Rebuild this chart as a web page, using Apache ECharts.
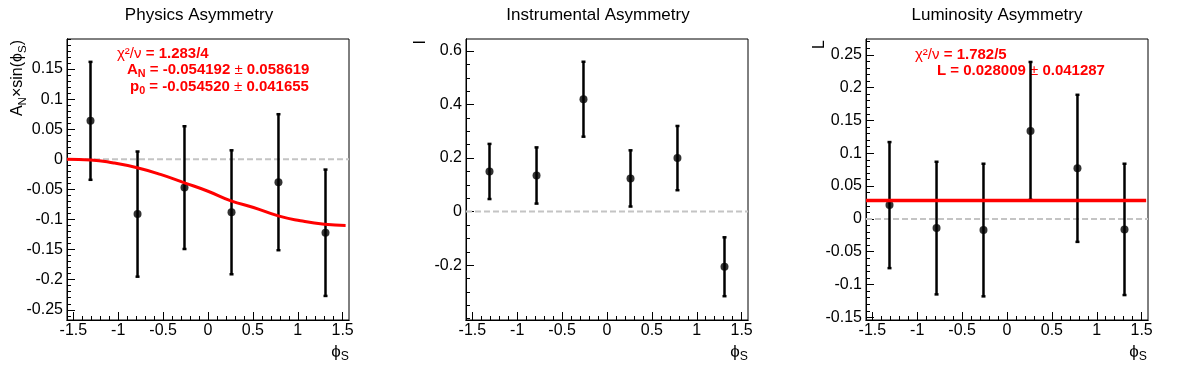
<!DOCTYPE html>
<html>
<head>
<meta charset="utf-8">
<script src="https://cdn.jsdelivr.net/npm/echarts@6/dist/echarts.min.js"></script>
<style>
html, body { margin: 0; padding: 0; background: #fff; }
#main { width: 1196px; height: 372px; }
</style>
</head>
<body>
<div id="main"></div>
<script>
// bin centres in phi_S
var phiBins = [-1.309, -0.785, -0.262, 0.262, 0.785, 1.309];

// physics asymmetry
var physVal = [0.064, -0.091, -0.047, -0.088, -0.038, -0.122];
var physErr = [0.098, 0.104, 0.102, 0.103, 0.113, 0.105];
// fit curve
var physFitX = [-1.571, -1.307, -1.05, -0.789, -0.53, -0.263, 0.0, 0.256, 0.507, 0.783, 1.03, 1.296, 1.533];
var physFitY = [0.000, -0.001, -0.006, -0.014, -0.025, -0.039, -0.053, -0.069, -0.080, -0.094, -0.102, -0.108, -0.110];

// instrumental asymmetry
var instVal = [0.150, 0.135, 0.420, 0.124, 0.200, -0.206];
var instErr = [0.103, 0.105, 0.140, 0.105, 0.120, 0.110];

// luminosity asymmetry
var lumiVal = [0.021, -0.014, -0.017, 0.134, 0.077, -0.016];
var lumiErr = [0.096, 0.101, 0.101, 0.105, 0.112, 0.100];
var lumiFit = 0.028009;

// axes
var xRange = [-Math.PI / 2, Math.PI / 2];
var xTicks = [-1.5, -1, -0.5, 0, 0.5, 1, 1.5];
var physRange = [-0.267, 0.2];
var physTicks = [-0.25, -0.2, -0.15, -0.1, -0.05, 0, 0.05, 0.1, 0.15];
var instRange = [-0.405, 0.645];
var instTicks = [-0.2, 0, 0.2, 0.4, 0.6];
var lumiRange = [-0.154, 0.274];
var lumiTicks = [-0.15, -0.1, -0.05, 0, 0.05, 0.1, 0.15, 0.2, 0.25];

var FONT = 'Liberation Sans';

function minorTicks(range, step) {
    var out = [];
    var k = Math.ceil(range[0] / step - 1e-9);
    while (k * step <= range[1] + 1e-9) {
        out.push(Math.round(k * step * 1e6) / 1e6);
        k++;
    }
    return out;
}

function axis(gi, range, pos, ticks, len, labels) {
    return {
        type: 'value', gridIndex: gi, min: range[0], max: range[1], position: pos,
        splitLine: { show: false },
        axisLine: { show: true, onZero: false, lineStyle: { color: '#000', width: 1 } },
        axisTick: { show: true, inside: true, length: len, customValues: ticks, lineStyle: { color: '#000', width: 1 } },
        axisLabel: {
            show: labels, customValues: ticks,
            fontSize: 16, color: '#000', fontFamily: FONT, margin: pos === 'bottom' ? 3 : 4
        }
    };
}

var grids = [67, 466, 866].map(function (l) {
    return { left: l, top: 39, width: 282, height: 281, show: true, borderColor: '#000', borderWidth: 1 };
});

var yRanges = [physRange, instRange, lumiRange];
var yTicks = [physTicks, instTicks, lumiTicks];
var yMinor = [0.01, 0.05, 0.01];

var xAxes = [], yAxes = [];
for (var g = 0; g < 3; g++) {
    xAxes.push(axis(g, xRange, 'bottom', xTicks, 8, true));
    yAxes.push(axis(g, yRanges[g], 'left', yTicks[g], 8, true));
}
// second axis on the same side of each frame, only for the short ticks
for (var h = 0; h < 3; h++) {
    xAxes.push(axis(h, xRange, 'bottom', minorTicks(xRange, 0.1), 4, false));
    yAxes.push(axis(h, yRanges[h], 'left', minorTicks(yRanges[h], yMinor[h]), 4, false));
}

function zeroLine(gi) {
    return {
        type: 'line', xAxisIndex: gi, yAxisIndex: gi, silent: true, showSymbol: false, z: 1,
        data: [[xRange[0], 0], [xRange[1], 0]],
        lineStyle: { color: '#c4c4c4', width: 2, type: [6, 3] }
    };
}

function errBars(gi, vals, errs) {
    return {
        type: 'custom', xAxisIndex: gi, yAxisIndex: gi, silent: true, z: 3,
        data: phiBins.map(function (x, i) { return [x, vals[i], errs[i]]; }),
        renderItem: function (params, api) {
            var x = api.value(0), y = api.value(1), e = api.value(2);
            var hi = api.coord([x, y + e]);
            var lo = api.coord([x, y - e]);
            var st = { stroke: '#000', lineWidth: 2.5 };
            return {
                type: 'group', children: [
                    { type: 'line', shape: { x1: hi[0], y1: hi[1], x2: lo[0], y2: lo[1] }, style: st },
                    { type: 'line', shape: { x1: hi[0] - 2, y1: hi[1], x2: hi[0] + 2, y2: hi[1] }, style: st },
                    { type: 'line', shape: { x1: lo[0] - 2, y1: lo[1], x2: lo[0] + 2, y2: lo[1] }, style: st }
                ]
            };
        }
    };
}

function points(gi, vals) {
    return {
        type: 'scatter', xAxisIndex: gi, yAxisIndex: gi, silent: true, z: 4,
        symbol: 'circle', symbolSize: 8,
        itemStyle: { color: '#000' },
        data: phiBins.map(function (x, i) { return [x, vals[i]]; })
    };
}

var series = [
    zeroLine(0), zeroLine(1), zeroLine(2),
    errBars(0, physVal, physErr), points(0, physVal),
    errBars(1, instVal, instErr), points(1, instVal),
    errBars(2, lumiVal, lumiErr), points(2, lumiVal),
    {
        type: 'line', xAxisIndex: 0, yAxisIndex: 0, silent: true, showSymbol: false, smooth: true, z: 5,
        data: physFitX.map(function (x, i) { return [x, physFitY[i]]; }),
        lineStyle: { color: '#ff0000', width: 3 }
    },
    {
        type: 'line', xAxisIndex: 2, yAxisIndex: 2, silent: true, showSymbol: false, z: 5,
        data: [[xRange[0], lumiFit], [1.55, lumiFit]],
        lineStyle: { color: '#ff0000', width: 3.5 }
    }
];

function rich(size, weight) {
    return {
        n: { fontFamily: FONT, fontSize: size, fontWeight: 'normal' },
        s: { fontFamily: FONT, fontSize: size * 0.72, fontWeight: weight, padding: [9, 0, 0, 0] }
    };
}

function txt(x, y, text, opts) {
    opts = opts || {};
    var size = opts.size || 15;
    var weight = opts.weight || 'normal';
    return {
        type: 'text', x: x, y: y, rotation: opts.rotation || 0, silent: true,
        style: {
            text: text, fill: opts.color || '#000',
            fontFamily: FONT, fontSize: size, fontWeight: weight,
            textAlign: opts.align || 'left', textVerticalAlign: 'middle',
            rich: rich(size, weight)
        }
    };
}

var red = { color: '#ff0000', weight: 'bold', size: 15 };
var graphics = [
    txt(199, 15, 'Physics Asymmetry', { align: 'center', size: 17 }),
    txt(598, 15, 'Instrumental Asymmetry', { align: 'center', size: 17 }),
    txt(997, 15, 'Luminosity Asymmetry', { align: 'center', size: 17 }),

    txt(18, 40, 'A{s|N}×sin(ϕ{s|S})', { align: 'right', size: 16, rotation: Math.PI / 2 }),
    txt(421, 40, 'I', { align: 'right', size: 16, rotation: Math.PI / 2 }),
    txt(820, 40, 'L', { align: 'right', size: 16, rotation: Math.PI / 2 }),

    txt(349, 352, 'ϕ{s|S}', { align: 'right', size: 17 }),
    txt(748, 352, 'ϕ{s|S}', { align: 'right', size: 17 }),
    txt(1147, 352, 'ϕ{s|S}', { align: 'right', size: 17 }),

    txt(117, 54, '{n|χ²/ν} = 1.283/4', red),
    txt(127, 70, 'A{s|N} = -0.054192 {n|±} 0.058619', red),
    txt(130, 87, 'p{s|0} = -0.054520 {n|±} 0.041655', red),
    txt(915, 55, '{n|χ²/ν} = 1.782/5', red),
    txt(937, 71, 'L = 0.028009 {n|±} 0.041287', red)
];

var chart = echarts.init(document.getElementById('main'));
chart.setOption({
    animation: false,
    grid: grids,
    xAxis: xAxes,
    yAxis: yAxes,
    series: series,
    graphic: graphics
});
</script>
</body>
</html>
